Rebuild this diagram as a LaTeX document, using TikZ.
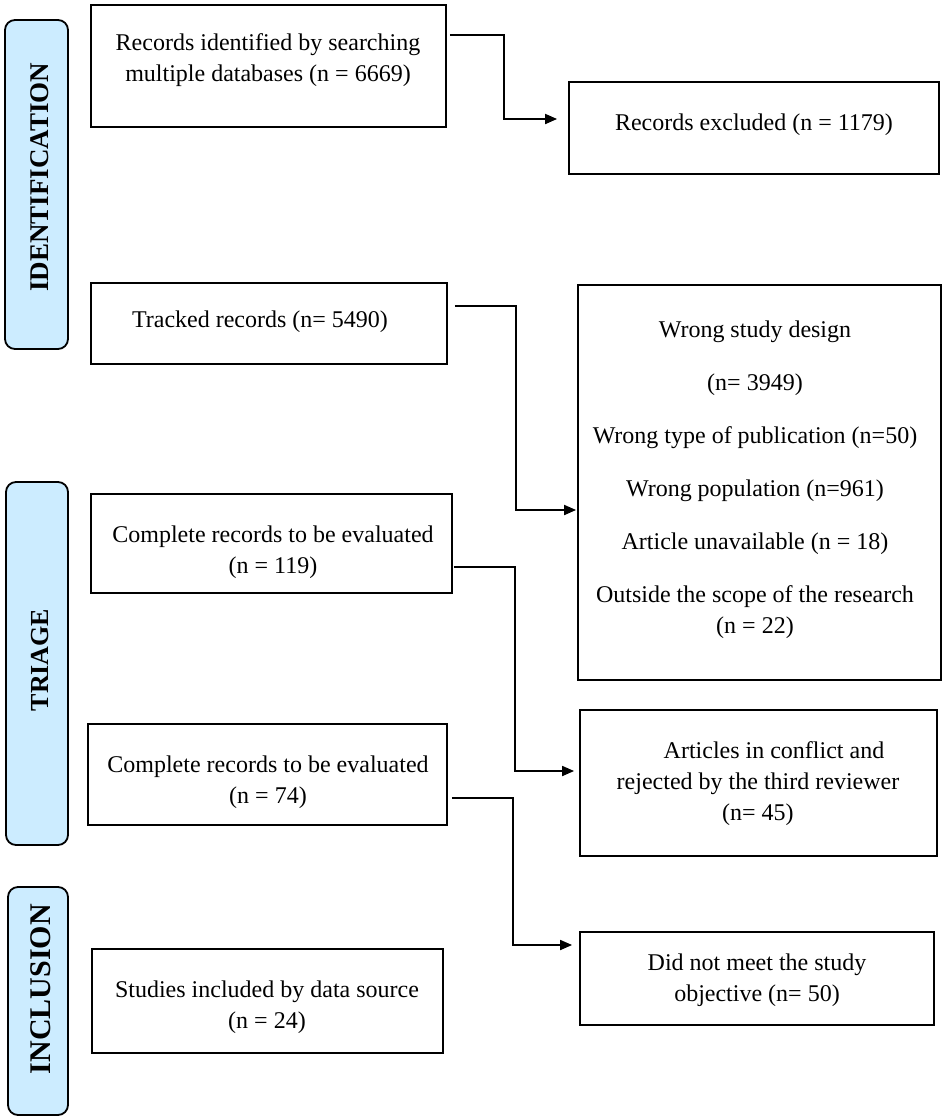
\documentclass[tikz,border=0pt]{standalone}
\usepackage{fontspec}
\setmainfont{Liberation Serif}
\usetikzlibrary{calc,arrows.meta}
\definecolor{sidefill}{RGB}{204,236,255}
\begin{document}
\begin{tikzpicture}[x=0.5pt,y=-0.5pt,
  box/.style={draw=black,line width=0.9pt,rectangle,inner sep=0pt},
  txt/.style={align=center,font=\fontsize{12}{15.5}\selectfont,inner sep=0pt},
  side/.style={draw=black,line width=0.9pt,fill=sidefill,rounded corners=5pt,inner sep=0pt},
  sidetxt/.style={rotate=90,font=\fontsize{13}{15}\selectfont\bfseries,inner sep=0pt},
  arr/.style={line width=0.9pt,-{Triangle[length=6pt,width=5pt]}}]
\useasboundingbox (0,0) rectangle (945,1120);
% side panels
\node[side,minimum width=31.5pt,minimum height=164.5pt] (s1) at (36.5,184.5) {};
\node[sidetxt,font=\fontsize{13.5}{15}\selectfont\bfseries] (s1t) at (40,177) {IDENTIFICATION};
\node[side,minimum width=31pt,minimum height=181.5pt] (s2) at (37,663.5) {};
\node[sidetxt] (s2t) at (40,660) {TRIAGE};
\node[side,minimum width=30pt,minimum height=114pt] (s3) at (38,1001) {};
\node[sidetxt,font=\fontsize{15}{17}\selectfont\bfseries] (s3t) at (41,989) {INCLUSION};
% boxes
\node[box,minimum width=177.5pt,minimum height=61pt] (b1) at (268.5,66) {};
\node[txt] (t1) at (268,60) {Records identified by searching\\multiple databases (n = 6669)};
\node[box,minimum width=185pt,minimum height=46pt] (b2) at (754,128) {};
\node[txt] (t2) at (754,125) {Records excluded (n = 1179)};
\node[box,minimum width=178pt,minimum height=40.5pt] (b3) at (269,323.5) {};
\node[txt] (t3) at (260,322) {Tracked records (n= 5490)};
\node[box,minimum width=181.5pt,minimum height=197.5pt] (b4) at (759.5,482.5) {};
\node[txt] (t4) at (755,480) {Wrong study design\\[11pt](n= 3949)\\[11pt]Wrong type of publication (n=50)\\[11pt]Wrong population (n=961)\\[11pt]Article unavailable (n = 18)\\[11pt]Outside the scope of the research\\(n = 22)};
\node[box,minimum width=180.5pt,minimum height=49.5pt] (b5) at (271.5,543.5) {};
\node[txt] (t5) at (273,552) {Complete records to be evaluated\\(n = 119)};
\node[box,minimum width=178.5pt,minimum height=73pt] (b6) at (758.5,783) {};
\node[txt] (t6) at (758,784) {\hspace*{16pt}Articles in conflict and\\rejected by the third reviewer\\(n= 45)};
\node[box,minimum width=179.5pt,minimum height=50.5pt] (b7) at (267.5,774.5) {};
\node[txt] (t7) at (268,782) {Complete records to be evaluated\\(n = 74)};
\node[box,minimum width=177pt,minimum height=46.5pt] (b8) at (757,978.5) {};
\node[txt] (t8) at (757,980) {Did not meet the study\\objective (n= 50)};
\node[box,minimum width=175.5pt,minimum height=52pt] (b9) at (267.5,1001) {};
\node[txt] (t9) at (267,1007) {Studies included by data source\\(n = 24)};
% connectors
\draw[arr] ($(b1.north east)+(3,31)$) -- ++(54,0) |- ($(b2.west)+(-11,-9)$);
\draw[arr] ($(b3.north east)+(7,24)$) -- ++(61,0) |- ($(b4.west)+(-1,27.5)$);
\draw[arr] ($(b5.north east)+(1,74)$) -- ++(61,0) |- ($(b6.west)+(-5,-12)$);
\draw[arr] ($(b7.north east)+(4,75)$) -- ++(61,0) |- ($(b8.west)+(-7,-33.5)$);
\end{tikzpicture}
\end{document}
